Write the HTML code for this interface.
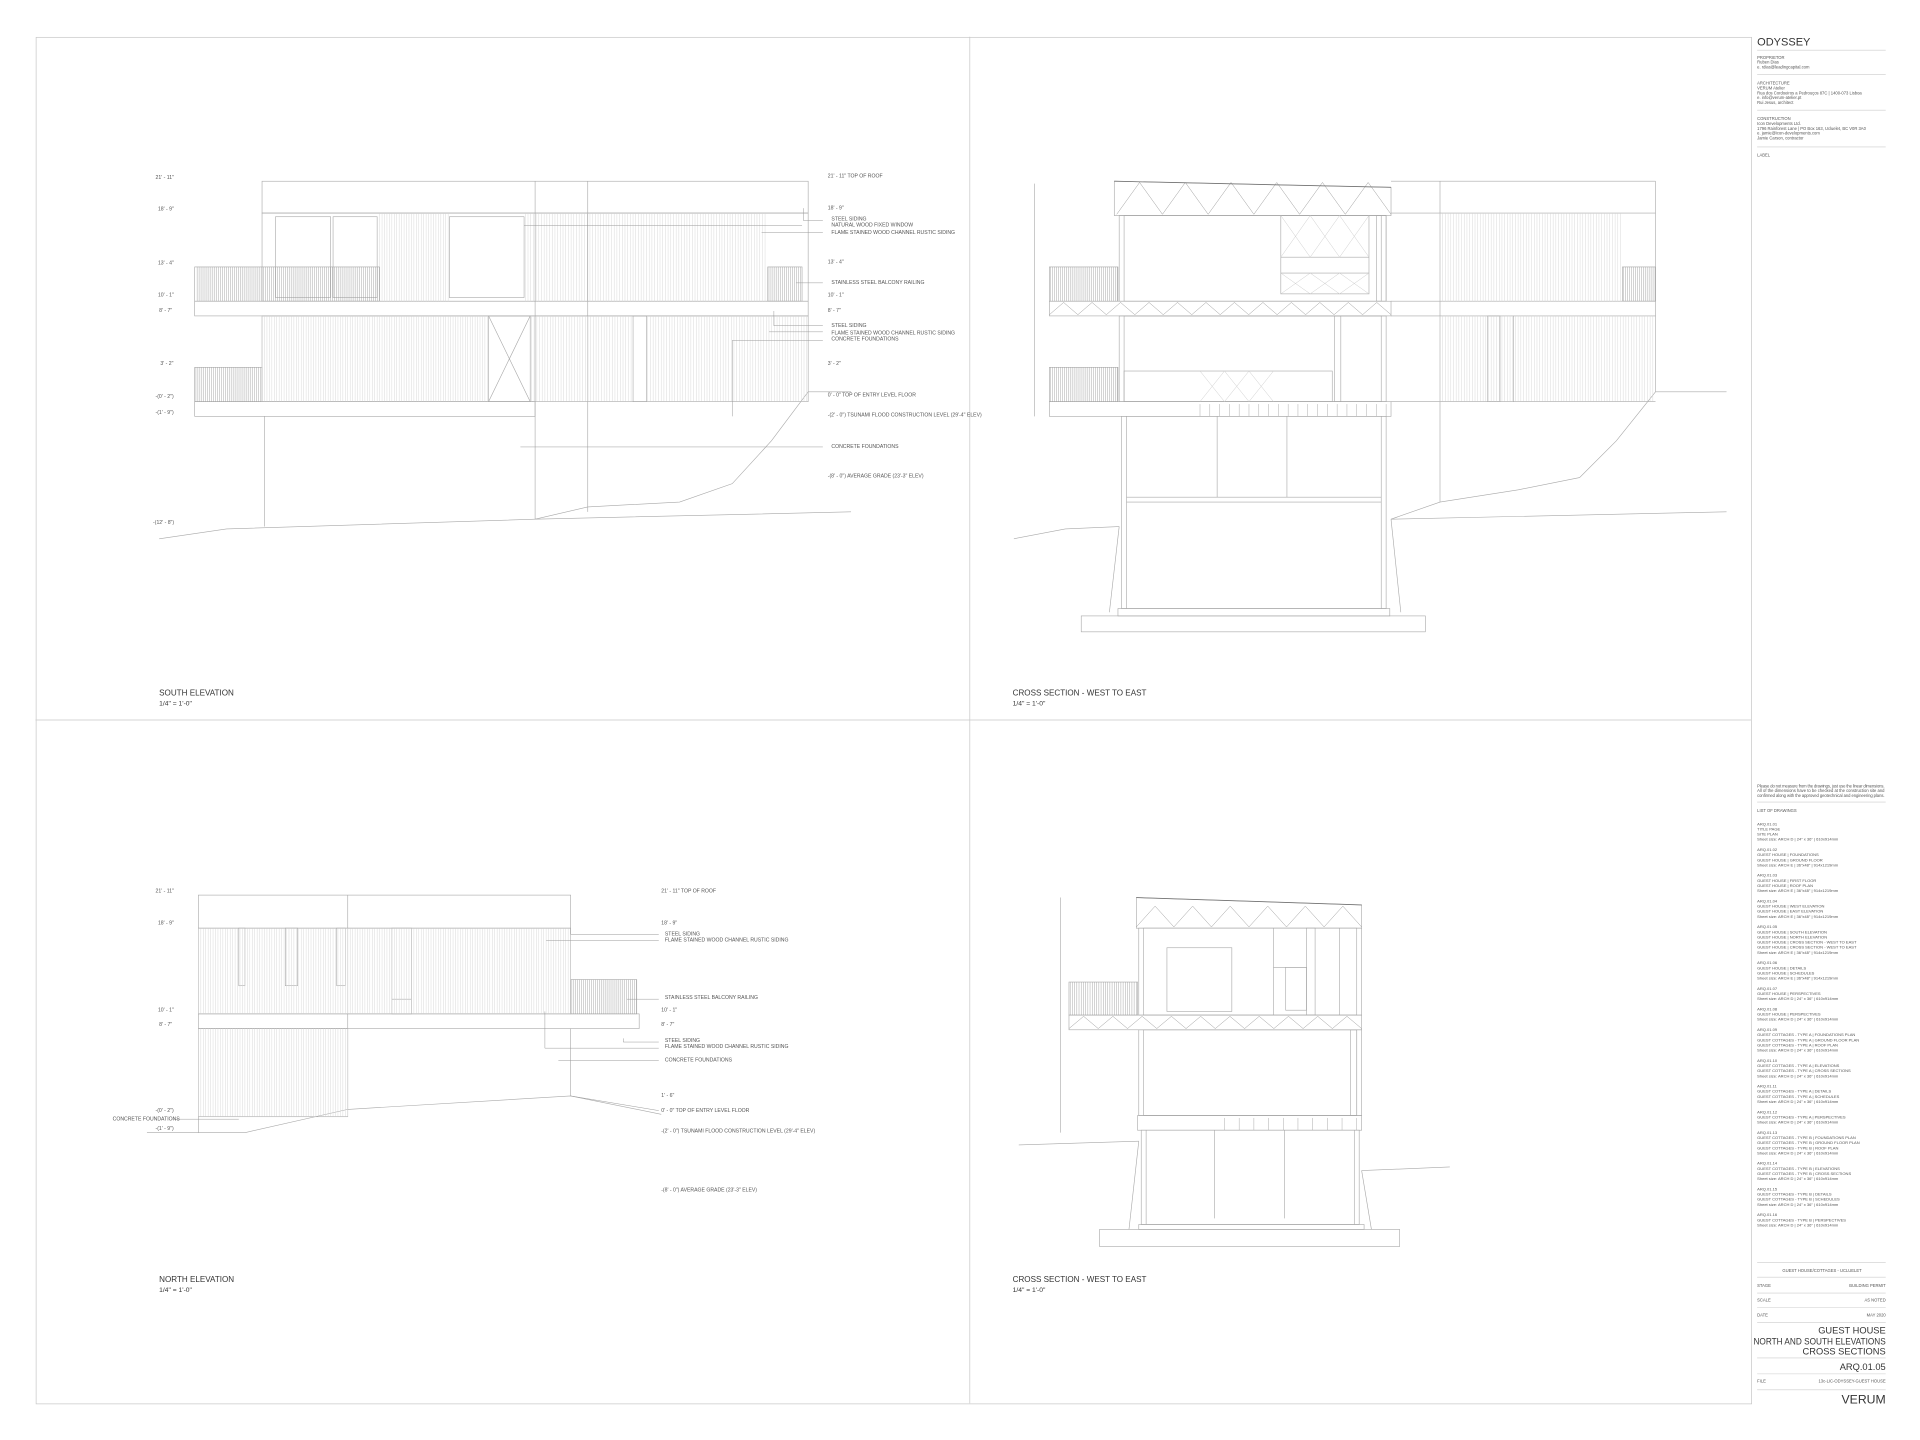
<!DOCTYPE html>
<html><head><meta charset="utf-8"><style>
html,body{margin:0;padding:0;background:#fff}
svg{display:block}
text{font-family:"Liberation Sans",sans-serif;fill:#555}
</style></head><body>
<svg id="s" width="1920" height="1440" viewBox="0 0 1568 1176" xmlns="http://www.w3.org/2000/svg">
<rect x="0" y="0" width="1568" height="1176" fill="#fff"/>
<g fill="none" stroke="#c8c8c8" stroke-width="0.6">
<rect x="29.5" y="30.5" width="1401" height="1116"/>
<line x1="792" y1="30" x2="792" y2="1146"/>
<line x1="29" y1="588" x2="1430" y2="588"/>
</g>
<g id="g" fill="none" stroke="#a8a8a8" stroke-width="0.5">
<rect x="214" y="148" width="446" height="26"/>
<line x1="437" y1="148" x2="437" y2="424"/><line x1="480" y1="148" x2="480" y2="418"/>
<rect x="214" y="174" width="446" height="72"/>
<rect x="225" y="177" width="45" height="66"/><rect x="272" y="177" width="36" height="66"/><rect x="367" y="177" width="61" height="66"/>
<rect x="159" y="218" width="151" height="28"/><rect x="627" y="218" width="28" height="28"/>
<rect x="159" y="246" width="501" height="12"/>
<rect x="214" y="258" width="446" height="70"/>
<rect x="399" y="258" width="34" height="70"/><line x1="399" y1="258" x2="433" y2="328"/><line x1="433" y1="258" x2="399" y2="328"/>
<rect x="517" y="258" width="11" height="70"/>
<rect x="159" y="300" width="55" height="28"/>
<rect x="159" y="328" width="278" height="12"/>
<line x1="216" y1="340" x2="216" y2="430"/>
<polyline points="130,440 185,432 437,424 695,418"/>
<polyline points="660,320 630,360 598,395 555,410 480,414 437,424"/>
<line x1="660" y1="320" x2="695" y2="320"/>
<line x1="845" y1="150" x2="845" y2="340"/>
<polygon points="910,148 1136,153 1136,176 910,176"/>
<rect x="914" y="176" width="218" height="70"/>
<rect x="918" y="176" width="210" height="70"/>
<rect x="1046" y="176" width="72" height="64"/><line x1="1046" y1="210" x2="1118" y2="210"/><line x1="1046" y1="223" x2="1118" y2="223"/>
<rect x="1124" y="176" width="8" height="70"/>
<rect x="857" y="246" width="279" height="12"/>
<rect x="914" y="258" width="218" height="70"/><rect x="918" y="258" width="210" height="70"/>
<rect x="1090" y="258" width="5" height="70"/>
<rect x="918" y="303" width="170" height="25"/>
<rect x="857" y="328" width="279" height="12"/>
<rect x="857" y="218" width="56" height="28"/><rect x="857" y="300" width="56" height="28"/>
<rect x="916" y="340" width="216" height="157"/><line x1="920" y1="340" x2="920" y2="497"/><line x1="1128" y1="340" x2="1128" y2="497"/>
<line x1="920" y1="406" x2="1128" y2="406"/><line x1="920" y1="410" x2="1128" y2="410"/>
<line x1="994" y1="340" x2="994" y2="406"/><line x1="1051" y1="340" x2="1051" y2="406"/>
<rect x="913" y="497" width="222" height="6"/>
<rect x="883" y="503" width="281" height="13"/>
<line x1="914" y1="430" x2="906" y2="500"/><line x1="1136" y1="424" x2="1144" y2="500"/>
<polyline points="828,440 870,432 914,430"/>
<line x1="1136" y1="148" x2="1352" y2="148"/><line x1="1352" y1="148" x2="1352" y2="320"/>
<line x1="1136" y1="174" x2="1352" y2="174"/>
<line x1="1176" y1="148" x2="1176" y2="410"/>
<rect x="1325" y="218" width="27" height="28"/>
<line x1="1136" y1="246" x2="1352" y2="246"/><line x1="1136" y1="258" x2="1352" y2="258"/><line x1="1136" y1="328" x2="1352" y2="328"/>
<rect x="1215" y="258" width="10" height="70"/><line x1="1236" y1="258" x2="1236" y2="328"/>
<polyline points="1352,320 1320,360 1290,390 1240,400 1176,410 1136,424"/>
<polyline points="1136,424 1410,418"/>
<line x1="1352" y1="320" x2="1410" y2="320"/>
<rect x="162" y="731" width="304" height="27"/>
<line x1="284" y1="731" x2="284" y2="906"/>
<rect x="162" y="758" width="304" height="70"/>
<rect x="195" y="758" width="5" height="47"/><rect x="233" y="758" width="10" height="47"/><rect x="275" y="758" width="7" height="47"/>
<rect x="320" y="758" width="16" height="70"/><line x1="320" y1="816" x2="336" y2="816"/>
<rect x="466" y="800" width="54" height="28"/>
<rect x="162" y="828" width="360" height="12"/>
<rect x="162" y="840" width="122" height="72"/>
<line x1="466" y1="840" x2="466" y2="895"/><line x1="162" y1="912" x2="162" y2="925"/>
<polyline points="120,925 200,925 284,906 466,895 540,910"/>
<line x1="866" y1="733" x2="866" y2="925"/>
<polygon points="928,733 1112,739 1112,758 928,758"/>
<rect x="930" y="758" width="182" height="71"/><rect x="934" y="758" width="174" height="71"/>
<rect x="953" y="774" width="53" height="52"/>
<line x1="1040" y1="758" x2="1040" y2="829"/><line x1="1040" y1="790" x2="1067" y2="790"/><rect x="1050" y="790" width="17" height="35"/>
<rect x="1067" y="758" width="7" height="71"/><line x1="1094" y1="758" x2="1094" y2="829"/>
<rect x="873" y="802" width="56" height="27"/>
<rect x="873" y="829" width="239" height="12"/>
<rect x="930" y="841" width="182" height="70"/><rect x="934" y="841" width="174" height="70"/>
<rect x="1103" y="841" width="5" height="70"/>
<rect x="929" y="911" width="183" height="12"/>
<rect x="932" y="923" width="178" height="77"/><line x1="936" y1="923" x2="936" y2="1000"/><line x1="1106" y1="923" x2="1106" y2="1000"/>
<line x1="992" y1="923" x2="992" y2="995"/><line x1="1049" y1="923" x2="1049" y2="995"/>
<rect x="930" y="1000" width="184" height="4"/>
<rect x="898" y="1004" width="245" height="14"/>
<line x1="930" y1="932" x2="922" y2="1004"/><line x1="1112" y1="956" x2="1120" y2="1004"/>
<polyline points="832,935 930,932"/><polyline points="1112,956 1184,953"/>
</g>
<g fill="none" stroke="#777" stroke-width="0.7">
<line x1="910" y1="148" x2="1136" y2="153"/><line x1="928" y1="733" x2="1112" y2="739"/>
</g>
<g id="lbl" font-size="4.2">
<text x="127" y="146">21' - 11"</text><text x="129" y="172">18' - 9"</text><text x="129" y="216">13' - 4"</text>
<text x="129" y="242">10' - 1"</text><text x="130" y="255">8' - 7"</text><text x="131" y="298">3' - 2"</text>
<text x="127" y="325">-(0' - 2")</text><text x="127" y="338">-(1' - 9")</text><text x="125" y="428">-(12' - 8")</text>
<text x="676" y="145">21' - 11" TOP OF ROOF</text><text x="676" y="171">18' - 9"</text>
<text x="679" y="180">STEEL SIDING</text><text x="679" y="185">NATURAL WOOD FIXED WINDOW</text><text x="679" y="191">FLAME STAINED WOOD CHANNEL RUSTIC SIDING</text>
<text x="676" y="215">13' - 4"</text><text x="679" y="232">STAINLESS STEEL BALCONY RAILING</text>
<text x="676" y="242">10' - 1"</text><text x="676" y="255">8' - 7"</text>
<text x="679" y="267">STEEL SIDING</text><text x="679" y="273">FLAME STAINED WOOD CHANNEL RUSTIC SIDING</text><text x="679" y="278">CONCRETE FOUNDATIONS</text>
<text x="676" y="298">3' - 2"</text><text x="676" y="324">0' - 0" TOP OF ENTRY LEVEL FLOOR</text>
<text x="676" y="340">-(2' - 0") TSUNAMI FLOOD CONSTRUCTION LEVEL (29'-4" ELEV)</text>
<text x="679" y="366">CONCRETE FOUNDATIONS</text><text x="676" y="390">-(8' - 0") AVERAGE GRADE (23'-3" ELEV)</text>
<text x="127" y="729">21' - 11"</text><text x="129" y="755">18' - 9"</text><text x="129" y="826">10' - 1"</text><text x="130" y="838">8' - 7"</text>
<text x="127" y="908">-(0' - 2")</text><text x="92" y="915">CONCRETE FOUNDATIONS</text><text x="127" y="923">-(1' - 9")</text>
<text x="540" y="729">21' - 11" TOP OF ROOF</text><text x="540" y="755">18' - 9"</text>
<text x="543" y="764">STEEL SIDING</text><text x="543" y="769">FLAME STAINED WOOD CHANNEL RUSTIC SIDING</text>
<text x="543" y="816">STAINLESS STEEL BALCONY RAILING</text><text x="540" y="826">10' - 1"</text><text x="540" y="838">8' - 7"</text>
<text x="543" y="851">STEEL SIDING</text><text x="543" y="856">FLAME STAINED WOOD CHANNEL RUSTIC SIDING</text><text x="543" y="867">CONCRETE FOUNDATIONS</text>
<text x="540" y="896">1' - 6"</text><text x="540" y="908">0' - 0" TOP OF ENTRY LEVEL FLOOR</text>
<text x="540" y="925">-(2' - 0") TSUNAMI FLOOD CONSTRUCTION LEVEL (29'-4" ELEV)</text>
<text x="540" y="973">-(8' - 0") AVERAGE GRADE (23'-3" ELEV)</text>
</g>
<g fill="none" stroke="#999" stroke-width="0.4">
<polyline points="428,184 655,184"/><polyline points="656,170 656,180 672,180"/><polyline points="622,190 672,190"/>
<polyline points="650,231 672,231"/><polyline points="632,254 632,266 672,266"/><polyline points="628,271 672,271"/>
<polyline points="598,340 598,278 672,278"/><polyline points="425,365 672,365"/>
<polyline points="466,758 466,763 538,763"/><polyline points="446,768 538,768"/><polyline points="512,816 538,816"/>
<polyline points="509,848 509,851 538,851"/><polyline points="445,826 445,856 538,856"/><polyline points="456,866 538,866"/>
<polyline points="466,895 538,907"/><polyline points="140,914 195,914"/>
</g>
<g font-size="6.6">
<text x="130" y="568" style="fill:#333">SOUTH ELEVATION</text><text x="130" y="576" font-size="5.5" style="fill:#333">1/4" = 1'-0"</text>
<text x="827" y="568" style="fill:#333">CROSS SECTION - WEST TO EAST</text><text x="827" y="576" font-size="5.5" style="fill:#333">1/4" = 1'-0"</text>
<text x="130" y="1047" style="fill:#333">NORTH ELEVATION</text><text x="130" y="1055" font-size="5.5" style="fill:#333">1/4" = 1'-0"</text>
<text x="827" y="1047" style="fill:#333">CROSS SECTION - WEST TO EAST</text><text x="827" y="1055" font-size="5.5" style="fill:#333">1/4" = 1'-0"</text>
</g>
<g stroke="#ccc" stroke-width="0.5">
<line x1="1435" y1="41" x2="1540" y2="41"/><line x1="1435" y1="61" x2="1540" y2="61"/><line x1="1435" y1="90" x2="1540" y2="90"/><line x1="1435" y1="120" x2="1540" y2="120"/>
<line x1="1435" y1="655" x2="1540" y2="655"/>
<line x1="1435" y1="1031" x2="1540" y2="1031"/><line x1="1435" y1="1043" x2="1540" y2="1043"/><line x1="1435" y1="1056" x2="1540" y2="1056"/>
<line x1="1435" y1="1068" x2="1540" y2="1068"/><line x1="1435" y1="1080" x2="1540" y2="1080"/><line x1="1435" y1="1109" x2="1540" y2="1109"/>
<line x1="1435" y1="1122" x2="1540" y2="1122"/><line x1="1435" y1="1135" x2="1540" y2="1135"/>
</g>
<text x="1435" y="37" font-size="9" style="fill:#333">ODYSSEY</text>
<g font-size="3.4">
<text x="1435" y="48">PROPRIETOR</text><text x="1435" y="52">Ruben Dias</text><text x="1435" y="56">e. rdias@leadingcapital.com</text>
<text x="1435" y="69">ARCHITECTURE</text><text x="1435" y="73">VERUM Atelier</text><text x="1435" y="77">Rua dos Cordoeiros a Pedrouços 87C | 1400-073 Lisboa</text><text x="1435" y="81">e. info@verum-atelier.pt</text><text x="1435" y="85">Rui Jesus, architect</text>
<text x="1435" y="98">CONSTRUCTION</text><text x="1435" y="102">Icon Developments Ltd.</text><text x="1435" y="106">1796 Rainforest Lane | PO Box 163, Ucluelet, BC V0R 3A0</text><text x="1435" y="110">e. jamie@icon-developments.com</text><text x="1435" y="114">Jamie Carson, contractor</text>
<text x="1435" y="128">LABEL</text>
<text x="1435" y="643" textLength="104">Please do not measure from the drawings, just use the linear dimensions.</text>
<text x="1435" y="647" textLength="104">All of the dimensions have to be checked at the construction site and</text>
<text x="1435" y="651" textLength="104">confirmed along with the approved geotechnical and engineering plans.</text>
<text x="1435" y="663">LIST OF DRAWINGS</text>
</g>
<text id="list" x="1435" y="674" font-size="3.3"></text>
<g font-size="3.4">
<text x="1488" y="1039" text-anchor="middle">GUEST HOUSE/COTTAGES - UCLUELET</text>
<text x="1435" y="1051">STAGE</text><text x="1540" y="1051" text-anchor="end">BUILDING PERMIT</text>
<text x="1435" y="1063">SCALE</text><text x="1540" y="1063" text-anchor="end">AS NOTED</text>
<text x="1435" y="1075">DATE</text><text x="1540" y="1075" text-anchor="end">MAY 2020</text>
<text x="1435" y="1129">FILE</text><text x="1540" y="1129" text-anchor="end">13c-LIC-ODYSSEY-GUEST HOUSE</text>
</g>
<g font-size="7.6" text-anchor="end">
<text x="1540" y="1089" style="fill:#333">GUEST HOUSE</text>
<text x="1540" y="1098" style="fill:#333" textLength="108" lengthAdjust="spacingAndGlyphs">NORTH AND SOUTH ELEVATIONS</text>
<text x="1540" y="1106" style="fill:#333">CROSS SECTIONS</text>
<text x="1540" y="1119" style="fill:#333">ARQ.01.05</text>
<text x="1540" y="1146" font-size="10" style="fill:#333">VERUM</text>
</g>
</svg>
<script>
var NS="http://www.w3.org/2000/svg",g=document.getElementById('g');
function L(x1,y1,x2,y2,c,w){var l=document.createElementNS(NS,'line');l.setAttribute('x1',x1);l.setAttribute('y1',y1);l.setAttribute('x2',x2);l.setAttribute('y2',y2);if(c)l.setAttribute('stroke',c);if(w)l.setAttribute('stroke-width',w);g.appendChild(l);}
function V(x1,x2,y1,y2,st,c){for(var x=x1;x<=x2;x+=st)L(x,y1,x,y2,c||'#d4d4d4',0.35);}
function Z(x1,x2,y1,y2,n){var w=(x2-x1)/n;for(var i=0;i<n;i++){L(x1+i*w,y2,x1+i*w+w/2,y1,'#999',0.4);L(x1+i*w+w/2,y1,x1+(i+1)*w,y2,'#999',0.4);}}
V(310,366,174,246,2);V(429,625,174,246,2.2);V(214,398,258,328,2);V(434,516,258,328,2.2);V(529,660,258,328,2.2);
V(161,310,218,246,1.6,'#999');V(628,655,218,246,1.6,'#999');V(160,214,300,328,1.6,'#999');
V(858,913,218,246,1.6,'#999');V(858,913,300,328,1.6,'#999');V(1326,1352,218,246,1.6,'#999');
V(1176,1325,174,246,2.2);V(1176,1352,258,328,2.2);
Z(857,1136,247,257,12);Z(912,1136,149,175,6);
for(var x=980;x<1136;x+=8)L(x,330,x,340,'#aaa',0.4);
V(874,929,802,829,1.8,'#999');Z(873,1112,830,840,10);Z(928,1112,740,757,6);
for(var x=1000;x<1112;x+=12)L(x,913,x,923,'#aaa',0.4);
V(162,466,758,828,2);V(162,284,840,912,2);V(467,520,800,828,1.6,'#999');
[[1046,176,1118,210],[1046,223,1118,240],[980,303,1040,328]].forEach(function(r){var n=3,w=(r[2]-r[0])/n;for(var i=0;i<n;i++){L(r[0]+i*w,r[1],r[0]+(i+1)*w,r[3],'#ccc',0.4);L(r[0]+(i+1)*w,r[1],r[0]+i*w,r[3],'#ccc',0.4);}});
var items=[["ARQ.01.01","TITLE PAGE","SITE PLAN","Sheet size: ARCH D | 24\" x 36\" | 610x914mm"],
["ARQ.01.02","GUEST HOUSE | FOUNDATIONS","GUEST HOUSE | GROUND FLOOR","Sheet size: ARCH E | 36\"x48\" | 914x1219mm"],
["ARQ.01.03","GUEST HOUSE | FIRST FLOOR","GUEST HOUSE | ROOF PLAN","Sheet size: ARCH E | 36\"x48\" | 914x1219mm"],
["ARQ.01.04","GUEST HOUSE | WEST ELEVATION","GUEST HOUSE | EAST ELEVATION","Sheet size: ARCH E | 36\"x48\" | 914x1219mm"],
["ARQ.01.05","GUEST HOUSE | SOUTH ELEVATION","GUEST HOUSE | NORTH ELEVATION","GUEST HOUSE | CROSS SECTION - WEST TO EAST","GUEST HOUSE | CROSS SECTION - WEST TO EAST","Sheet size: ARCH E | 36\"x48\" | 914x1219mm"],
["ARQ.01.06","GUEST HOUSE | DETAILS","GUEST HOUSE | SCHEDULES","Sheet size: ARCH E | 36\"x48\" | 914x1219mm"],
["ARQ.01.07","GUEST HOUSE | PERSPECTIVES","Sheet size: ARCH D | 24\" x 36\" | 610x914mm"],
["ARQ.01.08","GUEST HOUSE | PERSPECTIVES","Sheet size: ARCH D | 24\" x 36\" | 610x914mm"],
["ARQ.01.09","GUEST COTTAGES - TYPE A | FOUNDATIONS PLAN","GUEST COTTAGES - TYPE A | GROUND FLOOR PLAN","GUEST COTTAGES - TYPE A | ROOF PLAN","Sheet size: ARCH D | 24\" x 36\" | 610x914mm"],
["ARQ.01.10","GUEST COTTAGES - TYPE A | ELEVATIONS","GUEST COTTAGES - TYPE A | CROSS SECTIONS","Sheet size: ARCH D | 24\" x 36\" | 610x914mm"],
["ARQ.01.11","GUEST COTTAGES - TYPE A | DETAILS","GUEST COTTAGES - TYPE A | SCHEDULES","Sheet size: ARCH D | 24\" x 36\" | 610x914mm"],
["ARQ.01.12","GUEST COTTAGES - TYPE A | PERSPECTIVES","Sheet size: ARCH D | 24\" x 36\" | 610x914mm"],
["ARQ.01.13","GUEST COTTAGES - TYPE B | FOUNDATIONS PLAN","GUEST COTTAGES - TYPE B | GROUND FLOOR PLAN","GUEST COTTAGES - TYPE B | ROOF PLAN","Sheet size: ARCH D | 24\" x 36\" | 610x914mm"],
["ARQ.01.14","GUEST COTTAGES - TYPE B | ELEVATIONS","GUEST COTTAGES - TYPE B | CROSS SECTIONS","Sheet size: ARCH D | 24\" x 36\" | 610x914mm"],
["ARQ.01.15","GUEST COTTAGES - TYPE B | DETAILS","GUEST COTTAGES - TYPE B | SCHEDULES","Sheet size: ARCH D | 24\" x 36\" | 610x914mm"],
["ARQ.01.16","GUEST COTTAGES - TYPE B | PERSPECTIVES","Sheet size: ARCH D | 24\" x 36\" | 610x914mm"]];
var t=document.getElementById('list'),y=674;
items.forEach(function(grp){grp.forEach(function(s){var ts=document.createElementNS(NS,'tspan');ts.setAttribute('x',1435);ts.setAttribute('y',y);ts.textContent=s;t.appendChild(ts);y+=4.2;});y+=4.2;});
</script>
</body></html>
